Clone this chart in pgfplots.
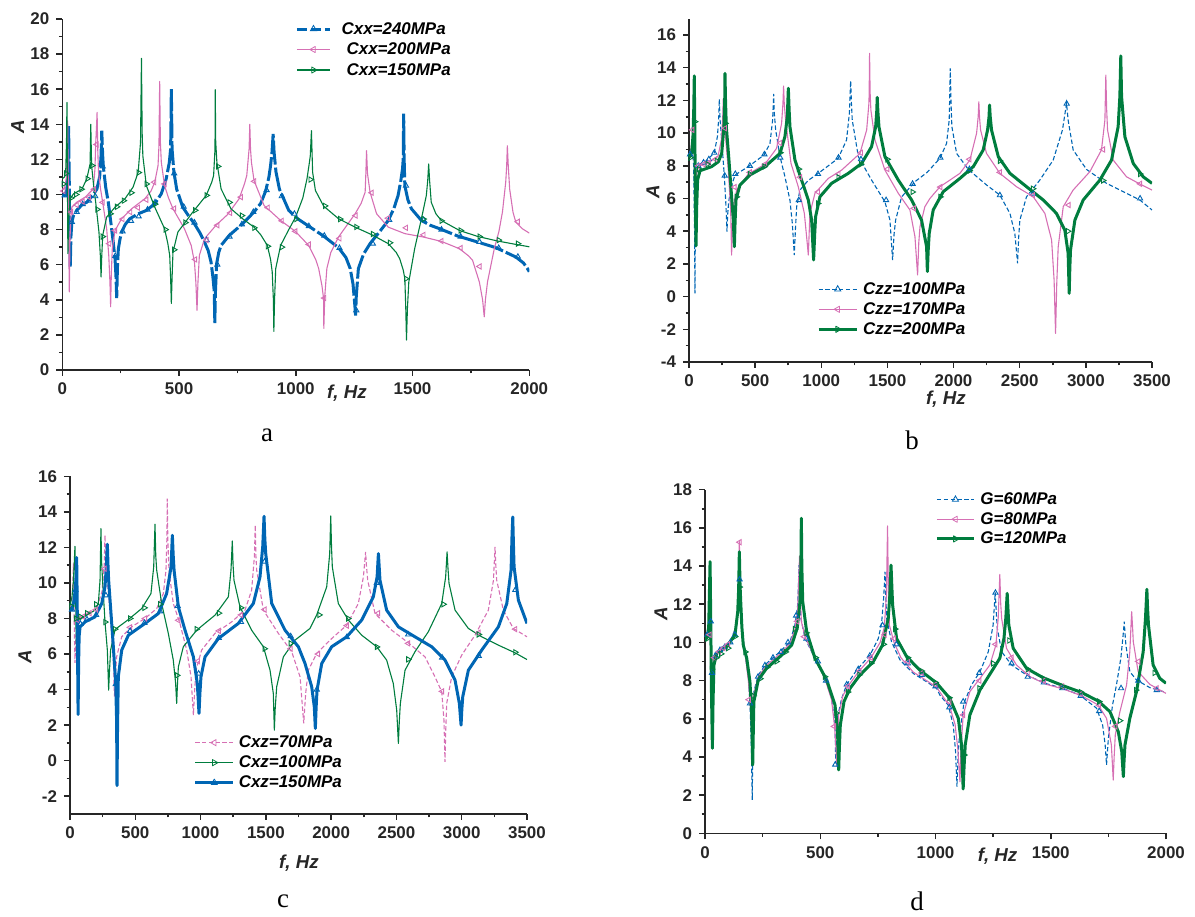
\documentclass[border=0pt]{standalone}
\usepackage{fontspec}
\setmainfont{Liberation Sans}
\newfontfamily\seriffont{Liberation Serif}
\usepackage{pgfplots}
\pgfplotsset{compat=1.18}
\definecolor{cblue}{RGB}{0,102,180}
\definecolor{cpink}{RGB}{214,112,180}
\definecolor{cgreen}{RGB}{0,125,62}
\newcommand\tickfont{\fontsize{8.5}{10}\selectfont\bfseries}
\newcommand\labfont{\fontsize{9.4}{10}\selectfont\bfseries\itshape}
\newcommand\legfont{\fontsize{8.5}{9}\selectfont\bfseries\itshape}
\pgfplotsset{
  panel/.style={
    scale only axis, anchor=south west,
    axis lines*=left,
    axis line style={line width=0.75bp, black!85},
    tick style={line width=0.75bp, black!85},
    tick align=outside,
    major tick length=3bp, minor tick length=1.7bp,
    minor x tick num=1, minor y tick num=1,
    tick label style={font=\tickfont, black!85},
    legend cell align=left,
  },
  leg/.style={legend style={draw=none, fill=none, anchor=west, font=\legfont, inner sep=0pt, row sep=#1,
     nodes={inner sep=0pt, text height=6.3bp, text depth=1.3bp}}},
  thk/.style={line width=1.5bp, line join=round},
  thn/.style={line width=0.55bp, line join=round},
  dthk/.style={line width=1.5bp, dash pattern=on 12bp off 1.5bp},
  dthn/.style={line width=0.55bp, dash pattern=on 2.2bp off 1.2bp},
  mk/.style={only marks, mark=triangle, mark size=1.5bp, mark options={solid, fill=white, line width=0.45bp, rotate=#1}},
  lg/.style={mark=triangle, mark size=1.8bp, mark options={solid, fill=white, line width=0.4bp, rotate=#1}},
}
\begin{document}
\begin{tikzpicture}
\path[use as bounding box] (0,0) rectangle (597.5bp,458.5bp);

%================ panel a
\begin{axis}[panel, at={(31.15bp,273.5bp)}, width=233.5bp, height=175.5bp,
  xmin=0, xmax=2000, ymin=0, ymax=20,
  xtick={0,500,1000,1500,2000}, xticklabels={0,500,1000,1500,2000},
  ytick={0,2,...,20}, yticklabels={0,2,4,6,8,10,12,14,16,18,20},
  leg=2.65bp, legend style={at={(0.498,0.913)}, column sep=5bp},
  legend image code/.code={\draw[mark repeat=2,mark phase=2,#1] plot coordinates {(0bp,0bp) (8.35bp,0bp) (16.7bp,0bp)};}]
\addplot[cblue, dthk, forget plot] coordinates {
(0,10.0) (10,9.95) (18,10.1) (24,11.0) (27,13.9) (30,10.5) (32,7.5) (34,5.84) (37,7.6) (41,8.45) (48,8.8) (62,9.1) (87,9.45) (105,9.56) (130,9.95) (148,10.3) (160,11.0) (166,12.2) (169,13.64) (173,12.2) (176,11.55) (186,10.4) (197,9.56) (208,8.4) (218,7.3) (226,6.3) (230,5.3) (233,4.1) (236,5.8) (240,6.9) (247,7.45) (254,7.86) (270,8.3) (289,8.62) (325,8.9) (360,9.09) (396,9.47) (424,10.04) (445,10.9) (458,11.8) (464,12.6) (467,16.0) (470,12.6) (478,11.27) (490,10.3) (516,9.28) (540,8.8) (566,8.33) (590,7.8) (609,7.29) (625,6.8) (637,6.15) (645,5.3) (651,4.45) (653,2.67) (656,4.5) (661,6.06) (670,6.7) (680,7.1) (715,7.67) (772,8.33) (821,9.0) (850,9.5) (871,10.2) (885,11.0) (892,11.65) (898,12.4) (903,13.45) (907,12.4) (915,11.3) (930,10.3) (970,9.09) (1010,8.6) (1055,8.2) (1119,7.63) (1183,6.97) (1215,6.4) (1233,5.78) (1245,4.9) (1254,3.5) (1256,3.1) (1259,4.2) (1268,5.78) (1290,6.6) (1318,7.2) (1360,7.9) (1396,8.52) (1420,9.2) (1438,9.94) (1450,10.8) (1457,11.46) (1460,12.0) (1462,14.6) (1464,12.0) (1467,10.5) (1480,9.7) (1495,9.19) (1538,8.52) (1575,8.25) (1616,8.05) (1694,7.63) (1779,7.29) (1857,6.97) (1942,6.44) (1975,6.1) (1991,5.8) (2000,5.6)};
\addplot[cpink, thn, forget plot] coordinates {
(0,10.3) (10,10.4) (18,11.0) (21,12.5) (23,14.2) (25,11.5) (27,8.0) (30,4.45) (33,7.5) (37,8.8) (41,9.28) (62,9.56) (98,9.85) (133,10.32) (140,11.5) (143,12.88) (147,14.0) (149,14.68) (152,12.5) (155,11.27) (164,10.3) (173,9.56) (190,8.05) (199,6.53) (204,5.0) (207,3.6) (210,5.5) (214,6.9) (226,7.95) (254,8.62) (297,9.19) (353,9.75) (380,10.2) (396,10.7) (410,11.65) (414,12.8) (417,16.44) (420,13.0) (424,11.84) (438,10.5) (455,9.8) (474,9.19) (523,8.05) (552,7.1) (566,6.15) (572,5.0) (577,3.4) (581,5.0) (587,6.53) (609,7.48) (658,8.24) (708,8.86) (757,9.75) (780,10.6) (790,11.08) (800,12.6) (803,14.0) (806,12.6) (810,11.84) (821,10.8) (864,9.375) (935,8.52) (998,7.9) (1055,7.1) (1085,6.3) (1098,5.78) (1112,4.8) (1119,4.07) (1120,2.37) (1124,4.2) (1133,5.78) (1150,6.7) (1183,7.58) (1254,8.9) (1280,9.5) (1297,10.13) (1300,11.2) (1303,12.5) (1307,11.2) (1318,10.13) (1346,8.9) (1396,8.14) (1467,7.77) (1545,7.58) (1623,7.33) (1701,6.91) (1740,6.5) (1757,6.25) (1786,5.02) (1800,4.0) (1807,3.03) (1812,4.0) (1821,5.02) (1850,6.91) (1870,7.9) (1885,9.0) (1899,10.7) (1903,11.6) (1906,12.78) (1910,11.6) (1916,10.3) (1930,9.0) (1942,8.43) (1970,8.05) (2000,7.8)};
\addplot[cgreen, thn, forget plot] coordinates {
(0,10.9) (10,11.0) (15,11.5) (18,13.0) (20,15.25) (22,10.5) (24,6.63) (27,8.5) (34,9.75) (48,10.04) (84,10.3) (105,10.9) (115,11.5) (119,11.74) (122,14.0) (125,12.0) (127,11.46) (135,10.4) (143,9.56) (157,7.86) (163,6.5) (166,5.3) (169,6.5) (173,7.67) (190,8.71) (226,9.28) (268,9.75) (303,10.42) (325,11.27) (335,12.97) (339,17.76) (342,13.5) (345,12.2) (360,10.5) (396,9.28) (438,8.05) (452,7.2) (460,6.53) (464,5.2) (467,3.79) (470,5.2) (474,6.72) (495,7.86) (559,9.0) (616,9.94) (640,10.7) (648,11.08) (654,12.6) (655,15.97) (657,13.0) (662,11.84) (680,10.32) (722,9.19) (772,8.62) (821,8.14) (850,7.7) (878,7.1) (892,6.3) (899,5.59) (904,4.0) (906,2.2) (909,4.0) (914,5.78) (935,7.1) (970,8.0) (999,8.71) (1030,9.8) (1048,10.9) (1058,11.8) (1062,12.2) (1067,13.64) (1070,12.2) (1072,11.27) (1084,10.23) (1119,9.34) (1183,8.62) (1254,8.14) (1325,7.71) (1396,7.2) (1430,6.7) (1445,6.34) (1460,5.7) (1467,5.21) (1471,3.5) (1474,1.7) (1478,3.5) (1484,5.02) (1509,6.91) (1538,8.62) (1559,9.94) (1565,10.8) (1569,11.74) (1573,10.8) (1580,9.56) (1600,8.9) (1623,8.52) (1701,7.95) (1779,7.61) (1864,7.35) (1949,7.14) (2000,7.02)};
\addplot[cblue, mk=0, forget plot] coordinates {(10,9.95) (41,8.43) (62,9.0) (87,9.45) (114,9.65) (141,9.9) (173,11.6) (227,6.5) (258,7.9) (294,8.5) (327,8.75) (365,9.14) (397,9.55) (479,11.2) (520,9.3) (566,8.4) (618,7.4) (664,6.0) (716,7.6) (769,8.3) (818,9.0) (875,10.25) (940,9.9) (994,8.9) (1056,8.2) (1122,7.65) (1187,6.95) (1259,3.4) (1330,7.2) (1400,8.55) (1472,10.5) (1547,8.55) (1624,8.0) (1706,7.6) (1787,7.3) (1869,6.95) (1951,6.45)};
\addplot[cpink, mk=90, forget plot] coordinates {(5,10.2) (38,9.0) (62,9.4) (87,9.6) (114,9.85) (136,10.3) (147,12.85) (173,9.55) (201,7.2) (226,7.95) (258,8.6) (291,9.0) (324,9.25) (360,9.7) (394,10.7) (438,10.6) (479,9.2) (569,6.3) (618,7.4) (664,8.25) (719,8.95) (765,9.85) (822,10.75) (880,9.25) (940,8.5) (998,7.9) (1056,7.15) (1122,4.1) (1187,7.5) (1256,8.8) (1325,10.1) (1395,8.65) (1472,8.1) (1547,7.7) (1624,7.35) (1706,6.95) (1787,5.9) (1951,8.45)};
\addplot[cgreen, mk=-90, forget plot] coordinates {(5,10.6) (16,11.2) (38,9.8) (59,10.0) (82,10.3) (108,10.9) (128,11.65) (150,9.15) (173,7.6) (206,8.9) (234,9.3) (263,9.65) (296,10.1) (327,11.25) (361,10.6) (397,9.45) (442,8.0) (479,6.85) (527,8.4) (569,9.1) (618,9.95) (667,11.6) (716,9.55) (769,8.8) (822,8.1) (880,7.05) (940,7.0) (1002,8.6) (1063,10.85) (1125,9.35) (1190,8.6) (1259,8.15) (1330,7.75) (1403,7.25) (1472,5.2) (1547,8.6) (1624,8.5) (1706,7.95) (1787,7.6) (1869,7.4) (1951,7.2)};
\addlegendimage{cblue, line width=1.5bp, dash pattern=on 5bp off 2bp, lg=0}
\addlegendentry{Cxx=240MPa}
\addlegendimage{cpink, thn, lg=90}
\addlegendentry{\hspace{2.5bp}Cxx=200MPa}
\addlegendimage{cgreen, thn, lg=-90}
\addlegendentry{\hspace{2.5bp}Cxx=150MPa}
\end{axis}

%================ panel b
\begin{axis}[panel, at={(344.5bp,277.5bp)}, width=231.5bp, height=171.65bp,
  xmin=0, xmax=3500, ymin=-4, ymax=17,
  xtick={0,500,...,3500}, xticklabels={0,500,1000,1500,2000,2500,3000,3500},
  ytick={-4,-2,...,16}, yticklabels={-4,-2,0,2,4,6,8,10,12,14,16},
  leg=2.4bp, legend style={at={(0.276,0.1535)}, column sep=2.5bp},
  legend image code/.code={\draw[mark repeat=2,mark phase=2,#1] plot coordinates {(0bp,0bp) (9.5bp,0bp) (19bp,0bp)};}]
\addplot[cblue, dthn, forget plot] coordinates {
(0,8.8) (15,9.0) (25,9.3) (35,8.0) (42,4.0) (45,0.2) (48,4.5) (55,7.4) (65,7.9) (80,8.1) (130,8.3) (191,8.8) (215,9.8) (225,11.0) (229,12.07) (235,10.8) (247,9.58) (267,7.38) (277,5.9) (283,4.9) (287,3.97) (292,5.0) (300,5.8) (310,6.3) (330,7.0) (348,7.44) (448,7.95) (567,8.66) (612,9.37) (632,10.8) (640,12.4) (645,11.2) (655,10.2) (688,8.56) (725,7.34) (763,5.9) (781,4.48) (796,2.54) (805,4.2) (814,5.5) (839,6.52) (900,7.1) (977,7.54) (1128,8.46) (1191,9.58) (1212,11.2) (1222,13.19) (1228,11.8) (1234,10.8) (1280,8.56) (1380,7.13) (1481,5.8) (1519,4.68) (1539,2.24) (1550,3.8) (1562,4.68) (1607,6.1) (1708,7.03) (1800,7.6) (1897,8.46) (1947,9.37) (1967,10.8) (1975,13.96) (1981,11.8) (1987,10.4) (2023,8.76) (2111,7.78) (2249,6.83) (2350,6.21) (2426,5.09) (2463,3.87) (2484,2.03) (2492,3.6) (2501,4.68) (2551,6.1) (2652,7.13) (2753,8.35) (2823,10.19) (2854,11.82) (2866,10.8) (2904,8.97) (3005,7.78) (3156,6.93) (3307,6.32) (3408,5.91) (3500,5.3)};
\addplot[cpink, thn, forget plot] coordinates {
(0,8.6) (15,9.0) (25,9.8) (33,10.8) (38,9.0) (45,6.5) (52,7.0) (60,7.7) (80,8.0) (150,8.2) (220,8.6) (245,9.6) (255,11.0) (259,12.1) (265,11.0) (272,10.2) (297,7.74) (315,5.3) (322,2.54) (328,4.3) (335,5.5) (360,6.52) (448,7.5) (574,8.1) (662,9.07) (700,10.6) (710,11.8) (715,12.88) (720,11.8) (730,10.8) (771,8.15) (826,6.72) (872,5.09) (889,3.67) (902,2.54) (908,3.8) (914,5.09) (952,6.32) (1053,7.23) (1154,7.74) (1292,8.76) (1343,10.19) (1360,11.82) (1362,12.5) (1365,14.88) (1369,12.5) (1375,11.4) (1406,9.58) (1481,7.74) (1582,6.32) (1670,5.3) (1708,3.67) (1728,1.32) (1737,3.3) (1746,4.28) (1783,5.5) (1821,6.0) (1897,6.72) (2048,7.54) (2123,8.35) (2174,9.99) (2186,11.0) (2191,11.92) (2196,11.0) (2204,10.19) (2249,8.76) (2350,7.54) (2476,6.72) (2602,6.11) (2690,5.09) (2741,3.46) (2760,1.0) (2771,-2.25) (2780,0.8) (2791,3.05) (2829,5.5) (2904,6.52) (3030,7.64) (3118,8.97) (3144,10.8) (3151,13.55) (3157,11.5) (3164,10.19) (3207,8.35) (3307,7.33) (3408,6.89) (3500,6.52)};
\addplot[cgreen, thk, forget plot] coordinates {
(0,8.5) (20,8.8) (30,9.8) (36,11.5) (40,13.5) (44,10.0) (48,6.0) (53,3.1) (58,5.5) (65,7.13) (83,7.7) (171,7.95) (222,8.25) (247,8.76) (264,10.39) (270,12.0) (272,13.66) (276,12.0) (282,10.39) (302,8.35) (322,6.11) (335,4.68) (343,3.05) (348,4.5) (355,5.91) (385,6.83) (461,7.44) (574,7.95) (688,8.76) (725,9.78) (743,11.0) (751,12.74) (757,11.4) (763,10.39) (801,8.35) (851,7.13) (902,5.91) (927,4.68) (942,2.24) (950,3.8) (957,4.89) (990,6.11) (1078,6.93) (1204,7.54) (1305,8.15) (1380,9.17) (1411,10.39) (1419,11.3) (1423,12.19) (1428,11.3) (1436,10.39) (1481,8.56) (1582,7.13) (1683,5.91) (1758,4.68) (1796,3.05) (1802,1.53) (1808,2.8) (1816,3.87) (1846,5.3) (1922,6.42) (2048,7.23) (2149,7.95) (2224,8.97) (2257,10.19) (2268,11.0) (2272,11.72) (2277,11.0) (2287,10.19) (2338,8.56) (2426,7.54) (2552,6.72) (2678,5.91) (2778,5.09) (2841,4.07) (2866,2.65) (2874,0.2) (2879,1.8) (2884,2.85) (2917,4.68) (2980,5.91) (3106,7.13) (3194,8.35) (3244,10.39) (3257,12.23) (3264,14.72) (3270,12.23) (3295,9.78) (3358,8.15) (3433,7.33) (3500,6.93)};
\addplot[cblue, mk=0, forget plot] coordinates {(8,8.7) (70,8.0) (110,8.2) (150,8.4) (191,8.8) (270,7.4) (350,7.5) (460,8.0) (570,8.7) (690,8.5) (830,5.9) (975,7.5) (1130,8.5) (1300,8.4) (1490,5.9) (1690,6.9) (1900,8.5) (2120,7.8) (2350,6.2) (2600,6.3) (2855,11.8) (3410,6.0)};
\addplot[cpink, mk=90, forget plot] coordinates {(25,10.2) (70,8.0) (110,8.1) (150,8.2) (200,8.4) (272,10.3) (345,6.7) (460,7.6) (575,8.1) (690,9.4) (840,7.3) (975,6.4) (1130,7.5) (1300,8.8) (1500,7.8) (1700,5.4) (1900,6.7) (2120,8.4) (2350,7.6) (2600,6.2) (2870,5.6) (3130,9.0) (3410,6.9)};
\addplot[cgreen, mk=-90, forget plot] coordinates {(10,8.5) (45,10.7) (75,7.8) (140,8.1) (210,8.3) (275,10.6) (360,6.1) (460,7.5) (570,7.95) (690,8.8) (830,7.8) (975,5.7) (1130,7.3) (1300,8.1) (1500,8.4) (1690,6.4) (1900,6.1) (2120,7.7) (2350,8.3) (2600,6.6) (2865,4.0) (3130,7.1) (3410,7.5)};
\addlegendimage{cblue, dthn, lg=0}
\addlegendentry{Czz=100MPa}
\addlegendimage{cpink, thn, lg=90}
\addlegendentry{Czz=170MPa}
\addlegendimage{cgreen, thk, lg=-90}
\addlegendentry{Czz=200MPa}
\end{axis}

%================ panel c
\begin{axis}[panel, at={(35bp,51.5bp)}, width=228.5bp, height=168.85bp,
  xmin=0, xmax=3500, ymin=-3, ymax=16,
  xtick={0,500,...,3500}, xticklabels={0,500,1000,1500,2000,2500,3000,3500},
  ytick={-2,0,...,16}, yticklabels={-2,0,2,4,6,8,10,12,14,16},
  leg=2.4bp, legend style={at={(0.27,0.152)}, column sep=2bp},
  legend image code/.code={\draw[mark repeat=2,mark phase=2,#1] plot coordinates {(0bp,0bp) (9.5bp,0bp) (19bp,0bp)};}]
\addplot[cpink, dthn, forget plot] coordinates {
(0,8.6) (15,9.0) (22,10.0) (26,11.1) (30,9.5) (34,7.0) (38,5.5) (45,7.0) (60,7.9) (100,8.1) (200,8.5) (245,9.5) (262,11.0) (268,12.68) (273,11.5) (278,10.7) (306,8.47) (332,5.84) (340,3.6) (348,4.8) (357,5.84) (396,6.97) (472,7.53) (574,8.0) (664,8.56) (715,9.4) (735,10.7) (742,12.5) (745,14.74) (749,12.5) (758,10.7) (791,8.84) (842,7.72) (894,6.22) (927,4.72) (945,2.56) (955,4.0) (965,5.09) (1008,6.22) (1110,7.16) (1238,7.81) (1340,8.47) (1391,9.59) (1412,11.47) (1419,13.25) (1424,11.5) (1430,10.7) (1481,8.47) (1596,7.16) (1698,6.13) (1762,4.72) (1790,2.1) (1805,3.8) (1825,5.09) (1889,6.03) (2004,6.87) (2119,7.62) (2208,8.84) (2247,10.34) (2264,11.75) (2270,11.0) (2280,10.15) (2336,8.28) (2464,7.34) (2591,6.63) (2719,5.84) (2795,4.72) (2847,3.88) (2864,2.28) (2872,-0.06) (2878,1.8) (2885,3.22) (2923,4.72) (3000,5.94) (3102,7.06) (3204,8.47) (3243,10.15) (3255,12.03) (3261,11.0) (3268,10.15) (3319,8.47) (3395,7.44) (3500,6.97)};
\addplot[cgreen, thn, forget plot] coordinates {
(0,8.75) (15,9.2) (25,10.0) (32,11.0) (38,12.06) (42,10.0) (47,7.0) (50,6.0) (55,7.0) (65,7.7) (77,7.94) (115,8.13) (191,8.47) (217,8.84) (230,10.15) (237,13.06) (242,11.2) (248,10.34) (268,7.81) (286,6.22) (296,3.97) (302,5.0) (311,6.22) (345,7.38) (447,7.94) (549,8.56) (620,9.4) (641,10.9) (651,13.3) (657,11.5) (664,10.72) (702,8.84) (753,7.16) (791,5.66) (809,4.34) (817,3.22) (823,4.3) (830,5.28) (868,6.41) (970,7.34) (1111,8.19) (1213,9.22) (1233,10.72) (1243,12.36) (1249,11.0) (1256,10.15) (1302,8.65) (1391,7.34) (1481,6.41) (1532,5.09) (1557,3.78) (1565,1.72) (1572,3.0) (1583,4.16) (1634,5.84) (1723,6.78) (1838,7.44) (1889,8.19) (1966,9.78) (1989,11.65) (1997,13.77) (2003,12.0) (2009,10.9) (2055,8.84) (2132,7.91) (2234,7.06) (2349,6.41) (2425,5.66) (2476,4.34) (2502,2.85) (2515,0.97) (2522,2.2) (2530,3.22) (2566,5.09) (2642,6.13) (2744,7.25) (2847,8.84) (2877,10.34) (2888,11.75) (2895,10.8) (2903,9.97) (2949,8.47) (3051,7.44) (3153,6.97) (3281,6.5) (3408,6.07) (3500,5.69)};
\addplot[cblue, thk, forget plot] coordinates {
(0,8.56) (15,8.5) (30,9.0) (40,9.6) (48,10.5) (51,11.43) (55,9.0) (58,6.0) (62,2.6) (66,5.5) (70,7.0) (77,7.53) (115,7.81) (191,8.09) (243,8.84) (268,9.78) (278,10.9) (286,12.18) (291,11.0) (296,10.15) (314,8.28) (332,6.41) (350,4.34) (357,2.28) (360,-1.4) (364,1.8) (370,4.72) (396,6.22) (447,7.06) (574,7.72) (677,8.28) (740,9.4) (774,10.9) (784,12.68) (790,11.6) (797,10.72) (830,8.65) (881,7.34) (945,5.84) (975,4.34) (988,2.66) (995,3.8) (1003,4.72) (1034,5.84) (1136,6.87) (1289,7.72) (1404,8.84) (1455,10.34) (1476,12.03) (1486,13.75) (1492,12.5) (1499,11.65) (1545,8.84) (1647,7.34) (1749,6.41) (1800,5.47) (1851,4.16) (1871,3.03) (1879,1.81) (1885,3.0) (1892,3.97) (1928,5.47) (2004,6.41) (2119,6.97) (2234,7.91) (2323,9.22) (2352,10.34) (2362,11.65) (2368,10.9) (2374,10.15) (2425,8.47) (2515,7.53) (2642,6.97) (2770,6.41) (2872,5.66) (2949,4.53) (2982,3.22) (2995,2.0) (3001,2.9) (3008,3.6) (3051,5.09) (3153,6.22) (3281,7.53) (3345,8.84) (3378,10.72) (3385,12.59) (3391,13.71) (3396,12.2) (3401,10.9) (3434,9.03) (3500,7.72)};
\addplot[cpink, mk=90, forget plot] coordinates {(60,7.9) (100,8.1) (150,8.3) (200,8.5) (265,10.8) (460,7.5) (575,8.0) (830,7.9) (980,5.6) (1140,7.3) (1310,8.2) (1490,8.5) (1690,6.3) (1900,6.0) (2120,7.6) (2360,8.3) (2590,6.6) (2850,3.9) (3130,7.2) (3410,7.4)};
\addplot[cgreen, mk=-90, forget plot] coordinates {(10,8.7) (45,8.0) (80,8.1) (130,8.3) (200,8.8) (270,7.8) (345,7.4) (460,8.0) (570,8.6) (690,8.8) (820,4.8) (970,7.4) (1140,8.3) (1310,8.6) (1490,6.3) (1690,6.6) (1910,8.2) (2130,8.0) (2350,6.4) (2590,5.7) (2860,8.8) (3130,7.1) (3410,6.1)};
\addplot[cblue, mk=0, forget plot] coordinates {(15,8.5) (42,9.6) (80,7.7) (130,7.95) (200,8.2) (275,9.3) (350,4.3) (460,7.3) (570,7.75) (690,8.4) (825,8.7) (985,4.9) (1140,6.9) (1310,7.8) (1490,11.2) (1690,7.0) (1890,4.0) (2120,6.95) (2350,10.0) (2590,7.1) (2850,5.8) (3130,5.9) (3410,9.6)};
\addlegendimage{cpink, dthn, lg=90}
\addlegendentry{Cxz=70MPa}
\addlegendimage{cgreen, thn, lg=-90}
\addlegendentry{Cxz=100MPa}
\addlegendimage{cblue, thk, lg=0}
\addlegendentry{Cxz=150MPa}
\end{axis}

%================ panel d
\begin{axis}[panel, at={(352.5bp,41.85bp)}, width=230.5bp, height=171.8bp,
  xmin=0, xmax=2000, ymin=0, ymax=18,
  xtick={0,500,1000,1500,2000}, xticklabels={0,500,1000,1500,2000},
  ytick={0,2,...,18}, yticklabels={0,2,4,6,8,10,12,14,16,18},
  leg=2.25bp, legend style={at={(0.499,0.914)}, column sep=2.5bp},
  legend image code/.code={\draw[mark repeat=2,mark phase=2,#1] plot coordinates {(0bp,0bp) (9.25bp,0bp) (18.5bp,0bp)};}]
\addplot[cblue, dthn, forget plot] coordinates {
(0,10.3) (10,10.6) (18,11.2) (24,11.1) (27,9.5) (29,8.47) (35,9.0) (43,9.43) (65,9.69) (108,10.04) (123,10.47) (137,10.91) (145,12.31) (149,13.27) (153,11.8) (159,10.74) (173,9.51) (188,8.2) (195,6.81) (200,5.0) (205,1.75) (208,5.5) (212,7.42) (231,8.29) (267,8.9) (325,9.51) (369,10.04) (390,10.91) (402,11.96) (408,14.05) (412,12.3) (416,11.26) (434,10.21) (477,9.17) (520,8.12) (549,7.07) (564,5.67) (567,3.67) (570,4.8) (574,6.02) (593,7.07) (614,7.77) (658,8.55) (716,9.34) (752,10.21) (766,11.0) (775,12.31) (781,13.7) (785,12.2) (788,11.26) (809,10.04) (846,9.08) (903,8.38) (961,7.94) (1005,7.59) (1019,7.24) (1055,6.72) (1077,5.67) (1087,4.28) (1093,2.44) (1097,3.8) (1103,4.98) (1123,6.81) (1156,7.77) (1193,8.47) (1229,9.51) (1250,10.91) (1259,12.62) (1264,11.5) (1268,10.74) (1287,9.51) (1330,8.82) (1395,8.29) (1474,7.86) (1554,7.59) (1626,7.24) (1699,6.55) (1725,5.67) (1736,4.63) (1742,3.58) (1746,4.3) (1750,4.98) (1768,6.72) (1785,7.77) (1804,9.17) (1814,10.39) (1819,11.09) (1822,10.5) (1826,9.86) (1843,8.47) (1872,8.03) (1930,7.63) (2000,7.38)};
\addplot[cpink, thn, forget plot] coordinates {
(0,10.2) (10,10.4) (18,10.9) (23,11.0) (27,9.5) (30,8.5) (37,9.0) (45,9.35) (65,9.6) (108,9.95) (123,10.4) (137,10.9) (144,12.5) (149,15.28) (153,12.5) (159,10.74) (173,9.51) (188,8.0) (195,6.98) (200,6.0) (203,5.5) (207,6.5) (212,7.3) (231,8.2) (267,8.8) (325,9.4) (369,9.95) (390,10.7) (402,11.7) (410,14.5) (414,12.3) (418,11.1) (434,10.3) (477,9.17) (520,8.12) (549,7.0) (562,5.6) (568,4.5) (572,3.5) (576,5.0) (580,6.2) (598,7.2) (620,7.7) (665,8.45) (720,9.2) (760,10.0) (778,10.8) (787,12.5) (792,16.1) (796,12.2) (800,10.9) (820,10.0) (850,9.2) (903,8.45) (961,8.0) (1005,7.65) (1030,7.2) (1060,6.7) (1085,5.7) (1097,4.4) (1106,2.7) (1111,4.5) (1120,6.2) (1149,7.42) (1193,8.12) (1236,8.82) (1262,9.86) (1272,11.26) (1279,13.56) (1283,12.0) (1287,11.26) (1308,9.69) (1351,8.82) (1409,8.21) (1482,7.8) (1554,7.56) (1633,7.21) (1706,6.72) (1742,6.02) (1763,4.63) (1771,2.79) (1775,4.0) (1780,5.15) (1800,6.37) (1829,7.77) (1843,9.51) (1851,11.61) (1855,10.8) (1858,10.04) (1879,8.47) (1930,7.8) (2000,7.33)};
\addplot[cgreen, thk, forget plot] coordinates {
(0,10.1) (10,10.3) (16,10.8) (19,12.5) (22,14.23) (25,11.0) (28,7.5) (32,4.45) (35,7.0) (39,8.82) (51,9.43) (94,9.78) (130,10.39) (142,11.61) (146,12.8) (149,14.75) (152,13.0) (155,12.13) (160,10.8) (166,9.86) (181,9.17) (195,7.94) (202,6.37) (207,3.58) (209,5.0) (212,6.9) (231,8.03) (267,8.64) (325,9.25) (376,9.86) (400,10.74) (412,12.13) (416,14.0) (418,16.5) (420,14.0) (424,12.13) (441,10.56) (477,9.17) (528,8.03) (564,6.72) (575,5.32) (580,3.32) (583,4.5) (587,5.67) (603,6.9) (629,7.59) (672,8.29) (730,8.99) (770,9.86) (795,11.26) (802,12.48) (807,14.05) (811,12.8) (814,11.96) (831,10.21) (875,9.25) (932,8.55) (1005,7.87) (1062,7.07) (1099,6.02) (1113,4.63) (1120,2.32) (1124,3.5) (1129,4.63) (1149,6.2) (1193,7.51) (1243,8.47) (1279,9.17) (1297,10.21) (1305,11.26) (1311,12.57) (1315,11.6) (1318,10.91) (1337,9.69) (1395,8.64) (1467,8.15) (1554,7.73) (1633,7.38) (1706,6.93) (1757,6.37) (1793,5.32) (1808,4.28) (1815,2.97) (1818,3.8) (1822,4.63) (1843,6.02) (1872,7.42) (1901,9.51) (1911,11.26) (1917,12.78) (1920,11.8) (1924,10.91) (1944,8.82) (1973,8.12) (2000,7.86)};
\addplot[cblue, mk=0, forget plot] coordinates {(10,10.4) (25,11.1) (30,8.4) (45,9.3) (65,9.6) (85,9.75) (110,10.0) (130,10.4) (150,13.3) (195,6.8) (230,8.2) (260,8.8) (295,9.2) (330,9.5) (360,10.0) (395,11.4) (440,10.2) (490,9.0) (525,8.0) (565,3.6) (615,7.8) (665,8.6) (715,9.3) (770,10.9) (830,9.9) (880,8.9) (940,8.3) (1000,7.7) (1060,6.6) (1120,6.9) (1190,8.4) (1260,12.6) (1330,8.9) (1400,8.2) (1470,7.9) (1550,7.6) (1630,7.2) (1710,6.4) (1805,7.6) (1880,8.0) (1960,7.5)};
\addplot[cpink, mk=90, forget plot] coordinates {(20,10.4) (40,9.2) (60,9.5) (80,9.7) (100,9.9) (150,15.25) (190,7.0) (400,11.1) (430,10.3) (560,5.6) (620,7.7) (670,8.5) (720,9.2) (780,10.4) (820,10.2) (880,9.0) (940,8.4) (1000,7.8) (1060,6.9) (1120,6.2) (1190,8.0) (1260,9.9) (1330,9.2) (1400,8.4) (1470,8.0) (1550,7.7) (1630,7.3) (1710,6.7) (1780,5.6) (1880,9.0) (1960,7.6)};
\addplot[cgreen, mk=-90, forget plot] coordinates {(10,10.2) (30,8.6) (50,9.2) (70,9.4) (100,9.7) (130,10.3) (150,12.9) (175,9.5) (210,7.2) (240,8.1) (270,8.7) (310,9.0) (350,9.5) (390,10.7) (440,10.5) (480,9.2) (520,8.2) (570,6.3) (620,7.4) (670,8.3) (720,8.9) (775,9.9) (825,10.7) (880,9.2) (940,8.5) (1000,7.9) (1060,7.1) (1125,4.1) (1190,7.6) (1250,8.9) (1320,10.1) (1400,8.6) (1470,8.1) (1550,7.7) (1630,7.4) (1710,6.9) (1800,5.9) (1870,7.5) (1950,8.4)};
\addlegendimage{cblue, dthn, lg=0}
\addlegendentry{G=60MPa}
\addlegendimage{cpink, thn, lg=90}
\addlegendentry{G=80MPa}
\addlegendimage{cgreen, thk, lg=-90}
\addlegendentry{G=120MPa}
\end{axis}

% axis titles and panel letters
\node[font=\labfont, black!85] at (173.5bp,262bp) {f, Hz};
\node[font=\labfont, black!85, rotate=90] at (8.8bp,395bp) {A};
\node[font=\labfont, black!85] at (473bp,258.7bp) {f, Hz};
\node[font=\labfont, black!85, rotate=90] at (326.5bp,362.5bp) {A};
\node[font=\labfont, black!85] at (149.5bp,27bp) {f, Hz};
\node[font=\labfont, black!85, rotate=90] at (12.5bp,130.2bp) {A};
\node[font=\labfont, black!85] at (498.8bp,30.2bp) {f, Hz};
\node[font=\labfont, black!85, rotate=90] at (330.5bp,151.75bp) {A};
\node[font=\seriffont\fontsize{13.5}{15}\selectfont] at (133.5bp,241bp) {a};
\node[font=\seriffont\fontsize{13.5}{15}\selectfont] at (456bp,238.5bp) {b};
\node[font=\seriffont\fontsize{13.5}{15}\selectfont] at (141.5bp,8bp) {c};
\node[font=\seriffont\fontsize{13.5}{15}\selectfont] at (458.5bp,8bp) {d};
\end{tikzpicture}
\end{document}
